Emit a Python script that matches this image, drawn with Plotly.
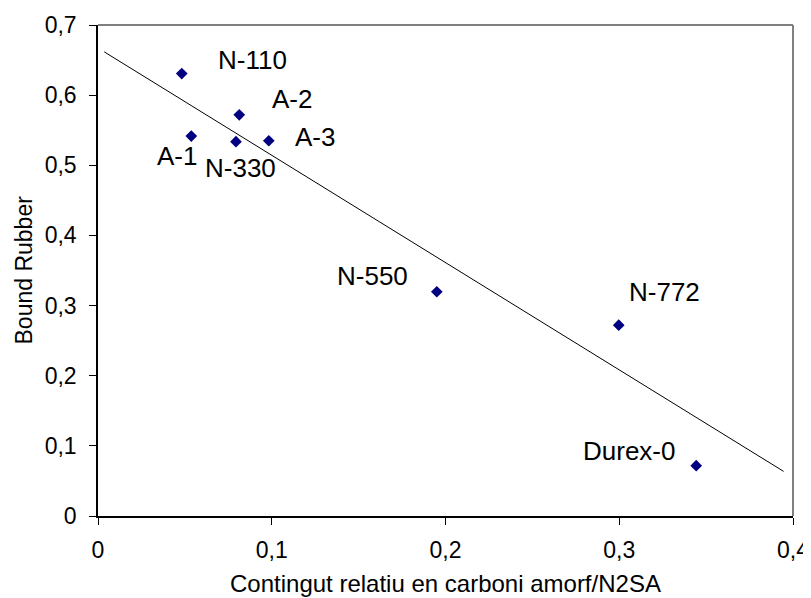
import plotly.graph_objects as go

names = ["N-110", "A-2", "A-1", "N-330", "A-3", "N-550", "N-772", "Durex-0"]
x_vals = [0.0482, 0.0813, 0.0537, 0.0794, 0.0983, 0.195, 0.2997, 0.3443]
y_vals = [0.6307, 0.572, 0.5417, 0.5336, 0.535, 0.3197, 0.272, 0.0717]
trend_x = [0.0036, 0.3946]
trend_y = [0.6617, 0.0636]

label_shift = {
    "N-110": (71, 14), "A-2": (53, 16), "A-1": (-14, -20), "N-330": (5, -26),
    "A-3": (46, 4), "N-550": (-64, 16), "N-772": (46, 33), "Durex-0": (-67, 15),
}

FONT = "Liberation Sans, Arial"

fig = go.Figure()
fig.add_trace(go.Scatter(x=trend_x, y=trend_y, mode="lines",
                         line=dict(color="black", width=1), hoverinfo="skip"))
fig.add_trace(go.Scatter(x=x_vals, y=y_vals, mode="markers", text=names,
                         marker=dict(symbol="diamond", size=9, color="#000080")))

for n, xv, yv in zip(names, x_vals, y_vals):
    dx, dy = label_shift[n]
    fig.add_annotation(x=xv, y=yv, text=n, showarrow=False, xshift=dx, yshift=dy,
                       xanchor="center", yanchor="middle",
                       font=dict(family=FONT, size=26, color="black"))

fig.add_annotation(x=0.5, y=0, xref="paper", yref="paper", yshift=-67,
                   xanchor="center", yanchor="middle",
                   text="Contingut relatiu en carboni amorf/N2SA", showarrow=False,
                   font=dict(family=FONT, size=24, color="black"))
fig.add_annotation(x=0, y=0.5, xref="paper", yref="paper", xshift=-75,
                   xanchor="center", yanchor="middle",
                   text="Bound Rubber", showarrow=False, textangle=-90,
                   font=dict(family=FONT, size=23, color="black"))

# plot-area frame: top and right edges in gray
fig.add_shape(type="line", xref="paper", yref="paper", x0=0, y0=1, x1=1, y1=1,
              line=dict(color="#808080", width=2), layer="above")
fig.add_shape(type="line", xref="paper", yref="paper", x0=1, y0=0, x1=1, y1=1,
              line=dict(color="#808080", width=2), layer="above")

fig.update_layout(
    width=803, height=590,
    margin=dict(l=90, r=18, t=17, b=82),
    paper_bgcolor="white", plot_bgcolor="white",
    showlegend=False,
    separators=", ",
    font=dict(family=FONT, size=23, color="black"),
)
fig.update_xaxes(range=[0, 0.4], dtick=0.1, showgrid=False, zeroline=False,
                 showline=True, linecolor="black", linewidth=1.5,
                 ticks="outside", ticklen=7, tickcolor="black",
                 tickfont=dict(size=23), ticklabelstandoff=6, automargin=False)
fig.update_yaxes(range=[0, 0.7], dtick=0.1, showgrid=False, zeroline=False,
                 showline=True, linecolor="black", linewidth=1.5,
                 ticks="outside", ticklen=7, tickcolor="black",
                 tickfont=dict(size=23), ticklabelstandoff=8, automargin=False)

fig.write_html("out.html")
